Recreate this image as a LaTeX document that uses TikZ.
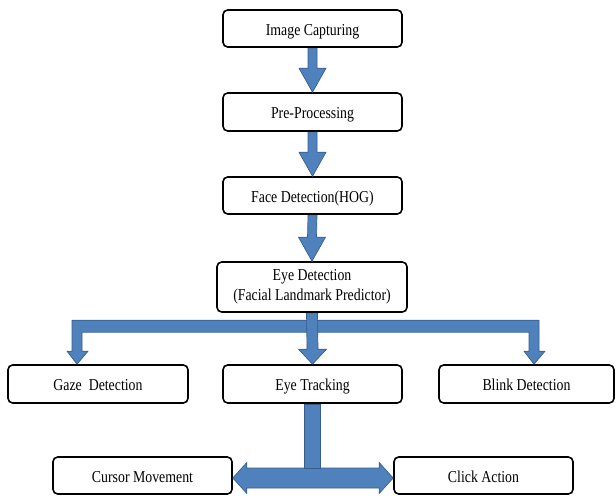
\documentclass[tikz,border=0pt]{standalone}
\usepackage{fontspec}
\setmainfont{Liberation Serif}[FakeStretch=0.83]
\usetikzlibrary{calc}
\definecolor{blockblue}{HTML}{4F81BD}
\definecolor{blockedge}{HTML}{385D8A}
\tikzset{
  box/.style={draw=black, line width=1.2pt, rounded corners=3.5pt, fill=white,
    align=center, inner sep=0pt, text height=12pt, text depth=1.6pt,
    font=\fontsize{12.5}{15}\selectfont},
  blockarrow/.style={fill=blockblue, draw=blockedge, line width=0.5pt, line join=miter},
}
\begin{document}
\begin{tikzpicture}[x=0.75pt, y=-0.75pt]
\useasboundingbox (0,0) rectangle (616,495);
% nodes
\node[box, minimum width=134.25pt, minimum height=27.75pt] (img) at (312.5,28.5) {Image Capturing};
\node[box, minimum width=134.25pt, minimum height=28.5pt] (pre) at (312.5,112) {Pre-Processing};
\node[box, minimum width=134.25pt, minimum height=27.75pt] (face) at (312.5,195.5) {Face Detection(HOG)};
\node[box, text height=, text depth=, minimum width=142.5pt, minimum height=37.5pt] (eye) at (312,287) {Eye Detection\\(Facial Landmark Predictor)};
\node[box, minimum width=135pt, minimum height=28.5pt] (gaze) at (98,384) {Gaze\ \ Detection};
\node[box, minimum width=134.25pt, minimum height=28.5pt] (track) at (312.5,384) {Eye Tracking};
\node[box, minimum width=131.25pt, minimum height=28.5pt] (blink) at (526.5,384) {Blink Detection};
\node[box, minimum width=134.25pt, minimum height=27.75pt] (cursor) at (142.5,475.5) {Cursor Movement};
\node[box, minimum width=134.25pt, minimum height=27.75pt] (click) at (483.5,475.5) {Click Action};

% straight down arrows
\newcommand{\downblk}[2]{%
  \path[blockarrow] ($(#1.south)+(-4.5,0.6)$) -- ($(#2.north)+(-4.5,-24)$) -- ($(#2.north)+(-13.5,-24)$)
    -- (#2.north) -- ($(#2.north)+(13.5,-24)$) -- ($(#2.north)+(4.5,-24)$) -- ($(#1.south)+(4.5,0.6)$) -- cycle;}
\downblk{img}{pre}
\downblk{pre}{face}
\downblk{face}{eye}

% branching bar to gaze and blink
\coordinate (gtip) at ($(gaze.north)+(-21,0)$);
\coordinate (btip) at ($(blink.north)+(7.5,0)$);
\path[blockarrow] ($(gtip)+(-5,-44)$) -- ($(btip)+(5,-44)$) -- ($(btip)+(5,-13)$) -- ($(btip)+(11,-13)$)
  -- (btip) -- ($(btip)+(-10,-13)$) -- ($(btip)+(-5,-13)$) -- ($(btip)+(-5,-32)$)
  -- ($(gtip)+(5,-32)$) -- ($(gtip)+(5,-13)$) -- ($(gtip)+(11,-13)$) -- (gtip)
  -- ($(gtip)+(-10,-13)$) -- ($(gtip)+(-5,-13)$) -- cycle;

% middle arrow eye -> tracking
\path[blockarrow] ($(eye.south)+(-5.5,0.6)$) -- ($(track.north)+(-5.5,-15)$) -- ($(track.north)+(-14,-15)$)
  -- (track.north) -- ($(track.north)+(14,-15)$) -- ($(track.north)+(5.5,-15)$) -- ($(eye.south)+(5.5,0.6)$) -- cycle;

% double arrow cursor <-> click
\coordinate (lt) at ($(cursor.east)+(0,2.5)$);
\coordinate (rt) at ($(click.west)+(0,2.5)$);
\path[blockarrow] (lt) -- ($(lt)+(14,-15.5)$) -- ($(lt)+(14,-10)$) -- ($(rt)+(-14,-10)$) -- ($(rt)+(-14,-15.5)$)
  -- (rt) -- ($(rt)+(-14,15.5)$) -- ($(rt)+(-14,10)$) -- ($(lt)+(14,10)$) -- ($(lt)+(14,15.5)$) -- cycle;

% vertical shaft from tracking down to double arrow
\coordinate (join) at ($(track.south)+(0,65)$);
\path[blockarrow] ($(track.south)+(-8,0.6)$) rectangle ($(join)+(8,0)$);
\end{tikzpicture}
\end{document}
